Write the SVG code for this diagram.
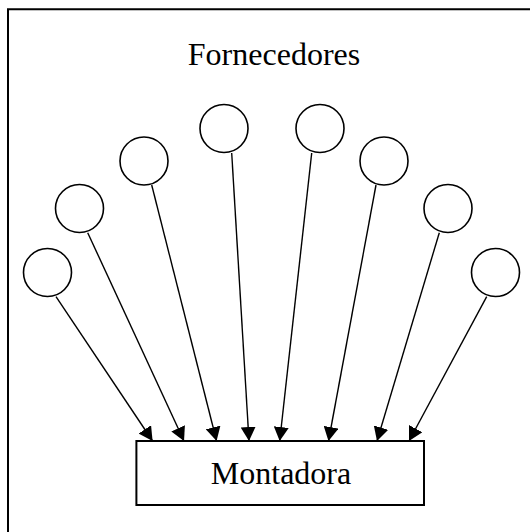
<svg xmlns="http://www.w3.org/2000/svg" width="530" height="532" viewBox="0 0 530 532">
<style>
.frame{fill:none;stroke:#000;stroke-width:2}
.sup{fill:#fff;stroke:#000;stroke-width:1.6}
.box{fill:#fff;stroke:#000;stroke-width:2}
.lbl{font-family:"Liberation Serif","Times New Roman",serif;font-size:32px;fill:#000;text-anchor:middle}
.edge{stroke:#000;stroke-width:1.4;fill:none;marker-end:url(#arr)}
</style>
<defs>
<marker id="arr" markerUnits="userSpaceOnUse" markerWidth="14" markerHeight="15" refX="14" refY="7.5" orient="auto" viewBox="0 0 14 15">
<path d="M0,0 L14,7.5 L0,15 z" fill="#000"/>
</marker>
</defs>
<rect x="0" y="0" width="530" height="532" fill="#fff"/>
<path class="frame" d="M8,540 L8,9.2 L540,9.2"/>
<text class="lbl" x="274" y="64.5">Fornecedores</text>
<g id="connectors">
<line class="edge" x1="56" y1="296.7" x2="152.6" y2="441"/>
<line class="edge" x1="87.7" y1="232.7" x2="184" y2="441"/>
<line class="edge" x1="151.7" y1="185" x2="216.6" y2="441"/>
<line class="edge" x1="231.7" y1="153" x2="249" y2="441"/>
<line class="edge" x1="311.7" y1="153" x2="279.7" y2="441"/>
<line class="edge" x1="376" y1="185" x2="328.5" y2="441"/>
<line class="edge" x1="439.3" y1="232.7" x2="377" y2="441"/>
<line class="edge" x1="486.7" y1="296.7" x2="409" y2="441"/>
</g>
<g id="s1"><circle class="sup" cx="47.5" cy="272.5" r="24"/></g>
<g id="s2"><circle class="sup" cx="79.5" cy="208.5" r="24"/></g>
<g id="s3"><circle class="sup" cx="144" cy="161" r="24"/></g>
<g id="s4"><circle class="sup" cx="224" cy="128.5" r="24"/></g>
<g id="s5"><circle class="sup" cx="320" cy="128.5" r="24"/></g>
<g id="s6"><circle class="sup" cx="384" cy="161" r="24"/></g>
<g id="s7"><circle class="sup" cx="448" cy="208.5" r="24"/></g>
<g id="s8"><circle class="sup" cx="495.5" cy="272.5" r="24"/></g>
<g id="montadora">
<rect class="box" x="136.4" y="441" width="287.6" height="64"/>
<text class="lbl" x="281" y="484">Montadora</text>
</g>
</svg>
